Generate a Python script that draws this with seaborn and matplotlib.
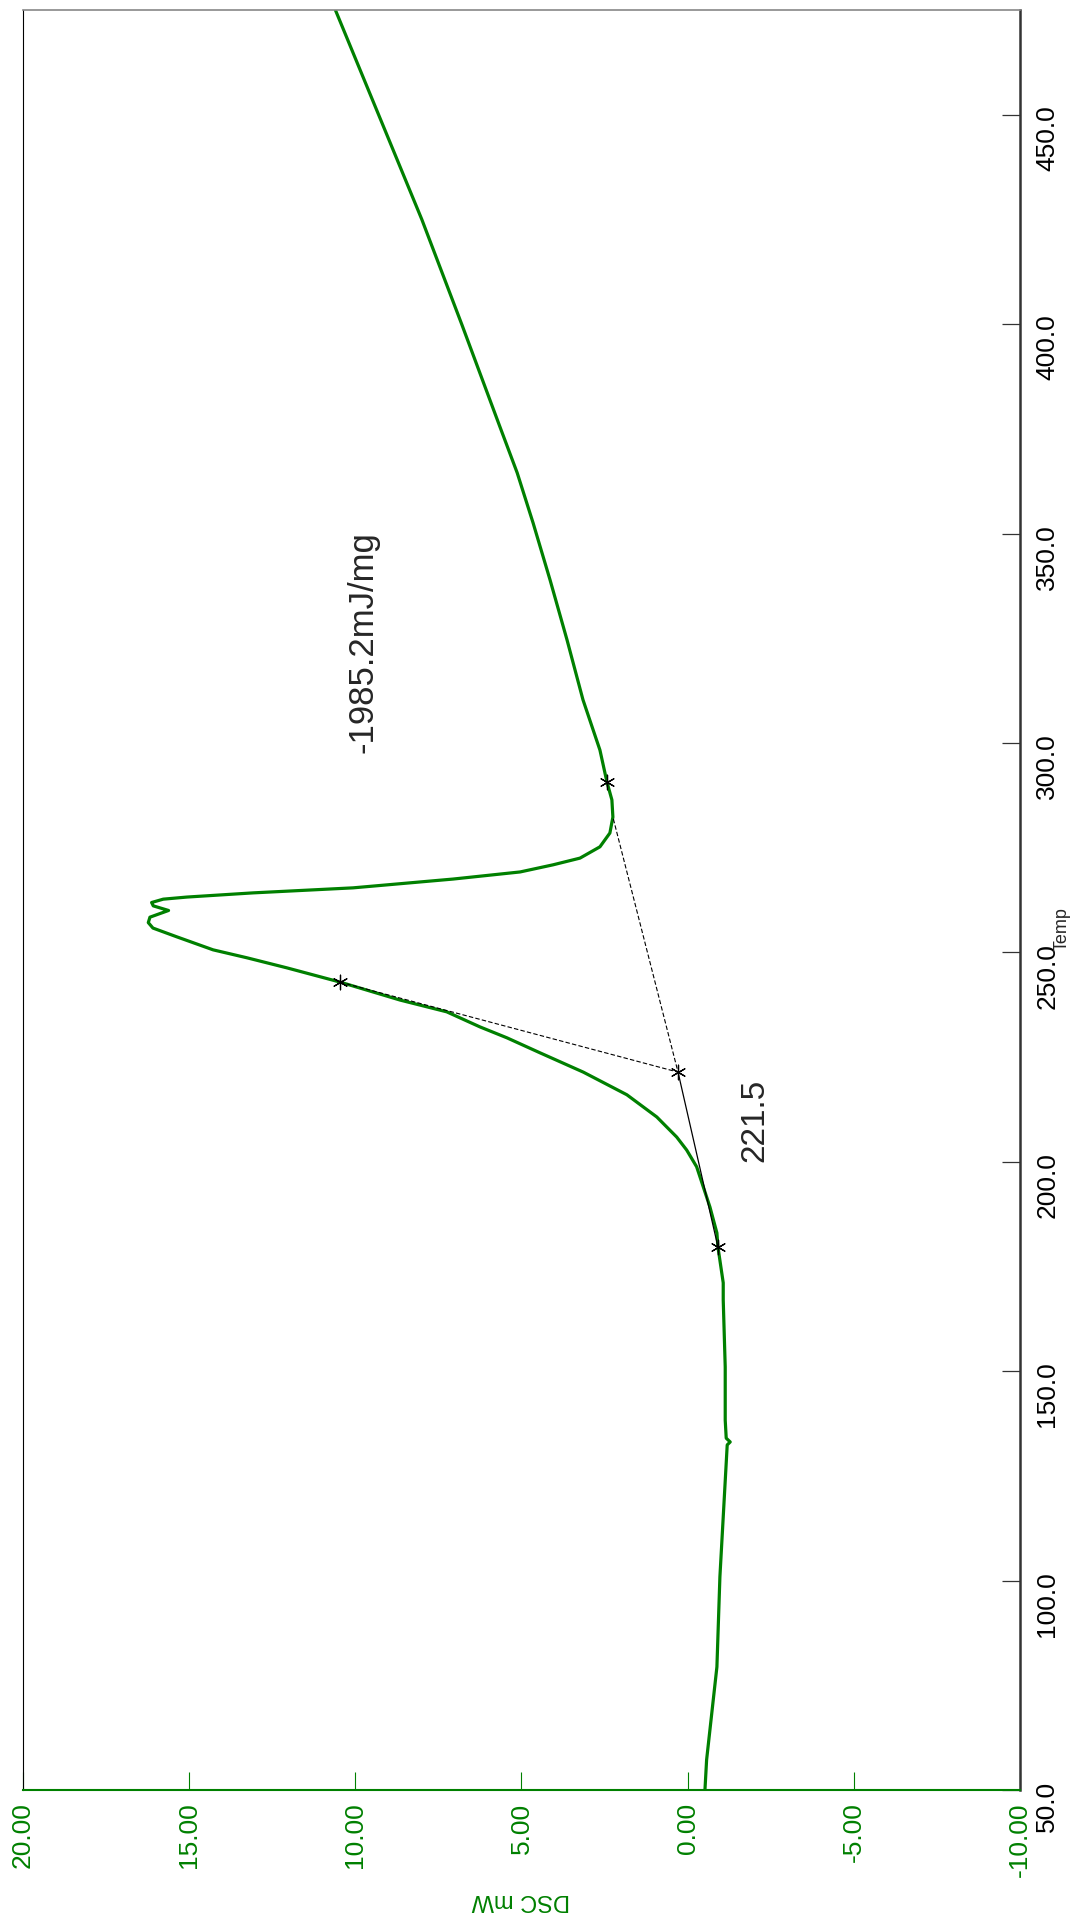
import matplotlib
matplotlib.use("Agg")
import matplotlib.pyplot as plt
from matplotlib import font_manager
import seaborn as sns
import pandas as pd

# DSC trace (temperature in C, heat flow in mW)
temp = [50.0, 57.2, 79.4, 100.9, 115.2, 132.4, 133.1, 134.0, 138.3, 151.0,
        167.0, 171.1, 179.7, 183.0, 189.2, 194.0, 198.8, 202.8, 205.9, 210.7,
        216.0, 221.4, 226.0, 229.6, 232.2, 235.8, 238.6, 242.9, 246.3, 248.7,
        250.6, 253.7, 255.8, 257.1, 258.4, 260.0, 261.1, 261.9, 262.7, 263.2,
        264.2, 265.4, 267.5, 269.2, 270.9, 272.5, 275.2, 278.5, 282.3, 286.4,
        290.7, 298.3, 310.3, 324.6, 338.9, 352.5, 364.5, 375.5, 400.0, 425.0,
        450.0, 475.0]
dsc = [-0.52, -0.57, -0.88, -0.97, -1.07, -1.19, -1.28, -1.16, -1.13, -1.13,
       -1.07, -1.07, -0.91, -0.88, -0.67, -0.47, -0.27, 0.03, 0.33, 0.93,
       1.83, 3.14, 4.44, 5.44, 6.25, 7.25, 8.65, 10.46, 12.06, 13.26,
       14.28, 15.37, 16.09, 16.23, 16.18, 15.62, 16.08, 16.13, 15.78, 15.07,
       13.08, 10.07, 7.06, 5.04, 4.05, 3.24, 2.64, 2.34, 2.25, 2.28,
       2.43, 2.64, 3.15, 3.63, 4.14, 4.65, 5.13, 5.65, 6.8, 8.0,
       9.3, 10.6]

# analysis points (onset construction)
mark_temp = [290.7, 242.9, 221.4, 179.7]
mark_dsc = [2.43, 10.46, 0.29, -0.91]
onset_temp = [179.7, 221.4]
onset_dsc = [-0.91, 0.29]
tangent_temp = [242.9, 221.4, 282.3]
tangent_dsc = [10.46, 0.29, 2.25]

x_ticks = [20, 15, 10, 5, 0, -5, -10]
y_ticks = [50, 100, 150, 200, 250, 300, 350, 400, 450]

GREEN = "#008000"


def pick_font(names):
    have = {f.name for f in font_manager.fontManager.ttflist}
    for n in names:
        if n in have:
            return n
    return "DejaVu Sans"


def main():
    sns.set_style("white")
    plt.rcParams["font.family"] = ["Liberation Sans", "DejaVu Sans"]
    narrow = pick_font(["Liberation Sans Narrow", "Liberation Sans"])

    fig = plt.figure(figsize=(10.89, 19.16), dpi=100)
    ax = fig.add_axes([23 / 1089, 1 - 1790 / 1916, 997 / 1089, 1780 / 1916])

    df = pd.DataFrame({"temp": temp, "dsc": dsc})
    sns.lineplot(data=df, x="dsc", y="temp", sort=False, estimator=None,
                 color=GREEN, lw=2.3, ax=ax)

    # onset construction lines
    ax.plot(onset_dsc, onset_temp, color="black", lw=0.9)
    ax.plot(tangent_dsc, tangent_temp, color="black", lw=0.8,
            dashes=(4, 2))
    marks = pd.DataFrame({"temp": mark_temp, "dsc": mark_dsc})
    sns.scatterplot(data=marks, x="dsc", y="temp", marker=(6, 2, 0), s=110,
                    color="black", linewidth=0.9, ax=ax, zorder=5)

    ax.text(9.77, 324.1, "-1985.2mJ/mg", rotation=90, fontsize=25,
            ha="center", va="center")
    ax.text(-2.03, 210.0, "221.5", rotation=90, fontsize=24,
            ha="center", va="center")

    ax.set_xlim(20, -10)
    ax.set_ylim(50, 475)
    ax.set_xticks(x_ticks)
    ax.set_xticklabels([f"{v:.2f}" for v in x_ticks], fontfamily=narrow,
                       fontsize=19, color=GREEN)
    ax.set_yticks(y_ticks)
    ax.set_yticklabels([f"{v:.1f}" for v in y_ticks], fontfamily=narrow,
                       fontsize=19, color="black")
    ax.yaxis.tick_right()
    ax.tick_params(axis="x", bottom=True, top=False, direction="in",
                   length=13, width=0.8, color=GREEN, pad=9,
                   labelrotation=90)
    ax.tick_params(axis="y", right=True, left=False, labelright=True,
                   labelleft=False, direction="in", length=13, width=0.9,
                   color="#333333", pad=11, labelrotation=90)
    ax.set_xlabel("")
    ax.set_ylabel("")

    ax.spines["left"].set_color("black")
    ax.spines["left"].set_linewidth(0.8)
    ax.spines["top"].set_color("#888888")
    ax.spines["top"].set_linewidth(1.2)
    ax.spines["right"].set_color("#333333")
    ax.spines["right"].set_linewidth(1.8)
    ax.spines["bottom"].set_color(GREEN)
    ax.spines["bottom"].set_linewidth(1.5)

    fig.text(1062 / 1089, 1 - 929 / 1916, "Temp", rotation=90, fontsize=13,
             ha="center", va="center")
    fig.text(521 / 1089, 1 - 1900 / 1916, "DSC mW", rotation=180,
             fontsize=17, color=GREEN, ha="center", va="center")

    fig.savefig("out.png", dpi=100)
    plt.close(fig)


if __name__ == "__main__":
    main()
